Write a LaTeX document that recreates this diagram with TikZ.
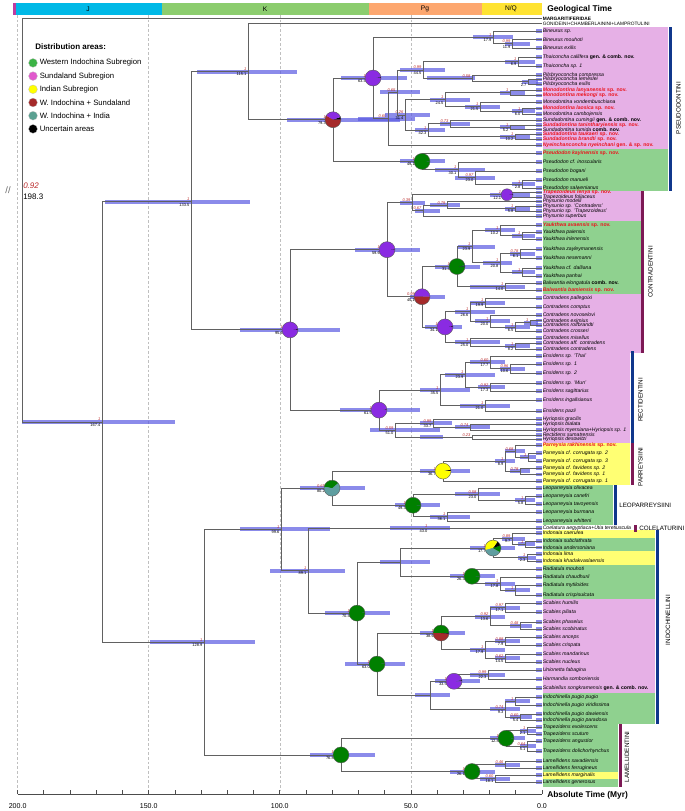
\documentclass[tikz,border=0pt]{standalone}
\usepackage{fontspec}
\setmainfont{Liberation Sans}
\usetikzlibrary{positioning}
\definecolor{hpdblue}{RGB}{90,90,225}
\definecolor{ppred}{RGB}{185,40,40}
\definecolor{newred}{RGB}{235,20,30}
\definecolor{boxpink}{RGB}{230,176,230}
\definecolor{boxgreen}{RGB}{143,209,143}
\definecolor{boxyellow}{RGB}{255,255,115}
\definecolor{tribeblue}{RGB}{16,55,140}
\definecolor{tribemaroon}{RGB}{125,25,85}
\definecolor{wind}{RGB}{0,128,0}
\definecolor{sunda}{RGB}{138,43,226}
\definecolor{india}{RGB}{255,255,0}
\definecolor{wisun}{RGB}{165,42,42}
\definecolor{wiind}{RGB}{95,158,160}
\definecolor{lgreen}{RGB}{60,180,70}
\definecolor{lpink}{RGB}{225,90,205}
\definecolor{lteal}{RGB}{90,160,145}
\definecolor{eraTr}{RGB}{190,60,160}
\definecolor{eraJ}{RGB}{0,185,231}
\definecolor{eraK}{RGB}{140,205,110}
\definecolor{eraPg}{RGB}{253,167,111}
\definecolor{eraNQ}{RGB}{255,227,50}
\tikzset{
  br/.style={draw=black!62, line width=0.55pt},
  hpd/.style={fill=hpdblue, fill opacity=0.7},
  grid/.style={draw=black!25, line width=0.4pt, dash pattern=on 2pt off 1.5pt},
  tip/.style={anchor=west, inner sep=0pt, font=\fontsize{3.85}{4.5}\selectfont\itshape},
  newsp/.style={text=newred, font=\fontsize{3.85}{4.5}\selectfont\bfseries\itshape},
  pp/.style={anchor=south east, inner sep=0.2pt, text=ppred, font=\fontsize{3}{3}\selectfont\itshape},
  age/.style={anchor=north east, inner sep=0.2pt, font=\fontsize{3}{3}\selectfont},
  tribe/.style={rotate=90, inner sep=0pt, font=\fontsize{4.7}{5}\selectfont},
  tribeh/.style={anchor=west, inner sep=0pt, font=\fontsize{4.7}{5}\selectfont},
  era/.style={inner sep=0pt, font=\fontsize{5}{5}\selectfont},
  bigl/.style={anchor=west, inner sep=0pt, font=\fontsize{6.3}{7}\selectfont\bfseries},
  axl/.style={inner sep=0pt, font=\fontsize{5.3}{6}\selectfont},
  legt/.style={anchor=west, inner sep=0pt, font=\fontsize{6}{7}\selectfont\bfseries},
  legi/.style={anchor=west, inner sep=0pt, font=\fontsize{5.8}{7}\selectfont},
  pieline/.style={draw=black!65, line width=0.3pt}
}
\newcommand\nov[1]{\textup{\bfseries #1}}
\newcommand\taxon[3]{\fill[hpd] (535.5,#2-1.8) rectangle (541.5,#2+1.8);
  \node[tip] (#1) at (542.5,#2) {#3};}
\newcommand\newtaxon[3]{\fill[hpd] (535.5,#2-1.8) rectangle (541.5,#2+1.8);
  \node[tip,newsp] (#1) at (542.5,#2) {#3};}
% name, x, y, bar from, bar to, posterior, age
\newcommand\inode[8][0.8pt]{\coordinate (#2) at (#3,#4);
  \fill[hpd] (#5,#4-2) rectangle (#6,#4+2);
  \node[pp] (#2p) at ([xshift=-#1,yshift=0.3pt]#2) {#7};
  \node[age] (#2a) at ([xshift=-#1,yshift=-0.8pt]#2) {#8};}
\newcommand\branch[2]{\draw[br] (#1) |- (#2);}
\newcommand\tipline[2]{\draw[br] (#1) |- ([xshift=-0.5pt]#2.west);}
\newcommand\piech[3][6pt]{\foreach \pc/\pa/\pb in {#3}{\fill[fill=\pc] (#2) -- ++(\pa:#1) arc[start angle=\pa,end angle=\pb,radius=#1] -- cycle;}
  \draw[pieline] (#2) circle[radius=#1];}

\begin{document}
\begin{tikzpicture}[x=0.75pt,y=-0.75pt]
\useasboundingbox (0,0) rectangle (685,811);
% geological time
\fill[eraTr] (13,3) rectangle (15.5,14.5);
\fill[eraJ] (15.5,3) rectangle (162,14.5);
\fill[eraK] (162,3) rectangle (369,14.5);
\fill[eraPg] (369,3) rectangle (482,14.5);
\fill[eraNQ] (482,3) rectangle (541.5,14.5);
\node[era] (eJ) at (88,9) {J};
\node[era] (eK) at (265,9) {K};
\node[era] (ePg) at (425,9) {Pg};
\node[era] (eNQ) at (511,9) {N/Q};
\node[bigl] (geo) at (547,9.5) {Geological Time};
\foreach \t in {50,100,150,200} \draw[grid] ({542-2.622*\t},15) -- ({542-2.622*\t},790);
% time axis
\draw[br,draw=black!70] (17.6,794) -- (542,794);
\foreach \t in {0,10,...,200} \draw[br,draw=black!70] ({542-2.622*\t},794) -- ({542-2.622*\t},789.5);
\foreach \t in {0,50,...,200} \node[axl] (ax\t) at ({542-2.622*\t},806) {\t.0};
\node[bigl] (abs) at (547,795) {Absolute Time (Myr)};
% legend
\node[legt] (legtitle) at (35,47) {Distribution areas:};
\foreach \lc/\lt [count=\i] in {lgreen/Western Indochina Subregion, lpink/Sundaland Subregion, india/Indian Subregion, wisun/W. Indochina + Sundaland, lteal/W. Indochina + India, black/Uncertain areas}{
  \fill[fill=\lc, draw=black!25, line width=0.2pt] (33,{49.7+13.2*\i}) circle[radius=3.3pt];
  \node[legi] (leg\i) at (39.5,{49.7+13.2*\i}) {\lt};}
% tip backgrounds
\fill[boxpink] (543,26.5) rectangle (668,149);
\fill[boxgreen] (543,149) rectangle (668,190.5);
\fill[boxpink] (543,190.5) rectangle (641,221);
\fill[boxgreen] (543,221) rectangle (641,294);
\fill[boxpink] (543,294) rectangle (641,353);
\fill[boxpink] (543,353) rectangle (630,443);
\fill[boxyellow] (543,443) rectangle (630,485);
\fill[boxgreen] (543,485) rectangle (613,525);
\fill[boxyellow] (543,529.5) rectangle (655,537.5);
\fill[boxgreen] (543,537.5) rectangle (655,551);
\fill[boxyellow] (543,551) rectangle (655,565);
\fill[boxgreen] (543,565) rectangle (655,599);
\fill[boxpink] (543,599) rectangle (655,692.5);
\fill[boxgreen] (543,692.5) rectangle (655,724);
\fill[boxgreen] (543,724) rectangle (618,786.5);
\fill[boxyellow] (543,771.5) rectangle (618,778.5);
% tribes
\fill[tribeblue] (668.5,26.5) rectangle (671.5,190.5);
\node[tribe] (pseu) at (678.5,108) {PSEUDODONTINI};
\fill[tribemaroon] (641,190.5) rectangle (644,353);
\node[tribe] (cont) at (650.5,272) {CONTRADENTINI};
\fill[tribeblue] (630.5,351) rectangle (633.5,443);
\node[tribe] (rect) at (640.5,400) {RECTIDENTINI};
\fill[tribemaroon] (630.5,443) rectangle (633.5,485);
\node[tribe] (parr) at (640.5,467) {PARREYSIINI};
\fill[tribeblue] (613.5,485) rectangle (616.5,525);
\node[tribeh] (leop) at (619,505) {LEOPARREYSIINI};
\fill[tribemaroon] (634,524.5) rectangle (637,531.5);
\node[tribeh] (coel) at (639,528) {COLELATURINI};
\fill[tribeblue] (655.5,529.5) rectangle (658.5,724);
\node[tribe] (indo) at (668,620) {INDOCHINELLINI};
\fill[tribemaroon] (618.5,724) rectangle (621.5,786.5);
\node[tribe] (lame) at (627,757) {LAMELLIDENTINI};
% tips
\node[tip,font=\fontsize{3.6}{4}\selectfont\bfseries] (tmar) at (542.5,18.5) {MARGARITIFERIDAE};
\node[tip,font=\fontsize{3.6}{4}\selectfont] (tgon) at (542.5,23.5) {GONIDEINI+CHAMBERLAININI+LAMPROTULINI};
\taxon{tB1}{31}{Bineurus sp.}
\taxon{tB2}{39.5}{Bineurus mouhoti}
\taxon{tB3}{48}{Bineurus exilis}
\taxon{tT1}{57}{Thaiconcha callifera \nov{gen. \& comb. nov.}}
\taxon{tT2}{66}{Thaiconcha sp. 1}
\taxon{tP1}{75}{Pilsbryoconcha compressa}
\taxon{tP2}{79.5}{Pilsbryoconcha lemeslei}
\taxon{tP3}{84}{Pilsbryoconcha exilis}
\newtaxon{tM1}{90}{Monodontina lanyanensis \nov{sp. nov.}}
\newtaxon{tM2}{95.5}{Monodontina mekongi \nov{sp. nov.}}
\taxon{tM3}{102}{Monodontina vondembuschiana}
\newtaxon{tM4}{108.5}{Monodontina laosica \nov{sp. nov.}}
\taxon{tM5}{114}{Monodontina cambojensis}
\taxon{tS1}{120}{Sundadontina cumingii \nov{gen. \& comb. nov.}}
\newtaxon{tS2}{125}{Sundadontina tanintharyiensis \nov{sp. nov.}}
\taxon{tS3}{129.5}{Sundadontina tumida \nov{comb. nov.}}
\newtaxon{tS4}{134}{Sundadontina taukaeri \nov{sp. nov.}}
\newtaxon{tS5}{139}{Sundadontina brandti \nov{sp. nov.}}
\newtaxon{tNy}{145}{Nyeinchanconcha nyeinchani \nov{gen. \& sp. nov.}}
\newtaxon{tPk}{153}{Pseudodon kayinensis \nov{sp. nov.}}
\taxon{tPi}{162}{Pseudodon cf. inoscularis}
\taxon{tPb}{171}{Pseudodon bogani}
\taxon{tPm}{180}{Pseudodon manueli}
\taxon{tPs}{188}{Pseudodon salwenianus}
\newtaxon{tTl}{192.5}{Trapezoideus lenya \nov{sp. nov.}}
\taxon{tTf}{197}{Trapezoideus foliaceus}
\taxon{tPh1}{201.5}{Physunio modelli}
\taxon{tPh2}{206}{Physunio sp. 'Contradens'}
\taxon{tPh3}{211}{Physunio sp. 'Trapezoideus'}
\taxon{tPh4}{216}{Physunio superbus}
\newtaxon{tY1}{225}{Yaukthwa avaensis \nov{sp. nov.}}
\taxon{tY2}{232}{Yaukthwa paiensis}
\taxon{tY3}{239}{Yaukthwa inlenensis}
\taxon{tY4}{249}{Yaukthwa zayleymanensis}
\taxon{tY5}{258}{Yaukthwa nesemanni}
\taxon{tY6}{268}{Yaukthwa cf. dalliana}
\taxon{tY7}{276}{Yaukthwa panhai}
\taxon{tBa1}{283}{Balwantia elongatula \nov{comb. nov.}}
\newtaxon{tBa2}{290}{Balwantia bamiensis \nov{sp. nov.}}
\taxon{tC1}{298}{Contradens pallegoixi}
\taxon{tC2}{307}{Contradens comptus}
\taxon{tC3}{315}{Contradens novoselovi}
\taxon{tC4}{320.5}{Contradens eximius}
\taxon{tC5}{325}{Contradens rolfbrandti}
\taxon{tC6}{331}{Contradens crosseri}
\taxon{tC7}{338}{Contradens misellus}
\taxon{tC8}{343}{Contradens aff. contradens}
\taxon{tC9}{349}{Contradens contradens}
\taxon{tE1}{356}{Ensidens sp. 'Thai'}
\taxon{tE2}{364}{Ensidens sp. 1}
\taxon{tE3}{373}{Ensidens sp. 2}
\taxon{tE4}{383}{Ensidens sp. 'Mun'}
\taxon{tE5}{391}{Ensidens sagittarius}
\taxon{tE6}{400}{Ensidens ingallsianus}
\taxon{tE7}{411}{Ensidens pazii}
\taxon{tH1}{419}{Hyriopsis gracilis}
\taxon{tH2}{424}{Hyriopsis bialata}
\taxon{tH3}{430}{Hyriopsis myersiana+Hyriopsis sp. 1}
\taxon{tH4}{435}{Rectidens sumatrensis}
\taxon{tH5}{439.5}{Hyriopsis desowitzi}
\newtaxon{tPa1}{445}{Parreysia rakhinensis \nov{sp. nov.}}
\taxon{tPa2}{453}{Parreysia cf. corrugata sp. 2}
\taxon{tPa3}{461}{Parreysia cf. corrugata sp. 3}
\taxon{tPa4}{468}{Parreysia cf. favidens sp. 2}
\taxon{tPa5}{474.5}{Parreysia cf. favidens sp. 1}
\taxon{tPa6}{481}{Parreysia cf. corrugata sp. 1}
\taxon{tL1}{488}{Leoparreysia olivacea}
\taxon{tL2}{496}{Leoparreysia canefri}
\taxon{tL3}{504}{Leoparreysia tavoyensis}
\taxon{tL4}{512}{Leoparreysia burmana}
\taxon{tL5}{521}{Leoparreysia whitteni}
\taxon{tCo}{528}{Coelatura aegyptiaca+Utia teretiuscula}
\taxon{tI1}{533}{Indonaia caerulea}
\taxon{tI2}{541}{Indonaia subclathrata}
\taxon{tI3}{547.5}{Indonaia andersoniana}
\taxon{tI4}{554}{Indonaia lima}
\taxon{tI5}{561}{Indonaia khadakvaslaensis}
\taxon{tR1}{569}{Radiatula mouhoti}
\taxon{tR2}{577}{Radiatula chaudhurii}
\taxon{tR3}{585}{Radiatula mytiloides}
\taxon{tR4}{595}{Radiatula crispisulcata}
\taxon{tSc1}{603}{Scabies humilis}
\taxon{tSc2}{612}{Scabies piliata}
\taxon{tSc3}{622}{Scabies phaselus}
\taxon{tSc4}{629}{Scabies scobinatus}
\taxon{tSc5}{637}{Scabies anceps}
\taxon{tSc6}{645}{Scabies crispata}
\taxon{tSc7}{654}{Scabies mandarinus}
\taxon{tSc8}{662}{Scabies nucleus}
\taxon{tU}{670}{Unionetta fabagina}
\taxon{tHa}{679}{Harmandia somboriensis}
\taxon{tSs}{688}{Scabiellus songkramensis \nov{gen. \& comb. nov.}}
\taxon{tIc1}{697}{Indochinella pugio pugio}
\taxon{tIc2}{705}{Indochinella pugio viridissima}
\taxon{tIc3}{714}{Indochinella pugio dawiensis}
\taxon{tIc4}{720}{Indochinella pugio paradoxa}
\taxon{tTz1}{727}{Trapezidens exolescens}
\taxon{tTz2}{734}{Trapezidens scutum}
\taxon{tTz3}{741}{Trapezidens angustior}
\taxon{tTz4}{751}{Trapezidens dolichorhynchus}
\taxon{tLa1}{761}{Lamellidens savadiensis}
\taxon{tLa2}{768}{Lamellidens ferrugineus}
\taxon{tLa3}{775}{Lamellidens marginalis}
\taxon{tLa4}{782}{Lamellidens generosus}
% internal nodes
\coordinate (rt) at (22,190);
\inode{A}{102}{421.9}{22}{175}{1}{167.4}
\inode{B}{191}{201.7}{105}{250}{1}{133.5}
\inode{D}{248}{71.6}{197}{297}{1}{115.1}
\inode[5pt]{F}{333}{119.7}{287}{400}{1}{79.3}
\inode[5pt]{G}{373}{78}{341}{407}{1}{63.4}
\inode{bin}{493}{37.4}{473}{513}{1}{17.9}
\inode{bin2}{512}{43.75}{505}{530}{0.99}{11.9}
\inode{ua}{388}{118.7}{358}{415}{0.60}{}
\inode{ub}{397}{92.4}{380}{420}{0.65}{}
\inode{tp}{423}{69.95}{400}{445}{0.99}{44.5}
\inode{tha}{518}{61.5}{505}{535}{1}{6.9}
\inode{pil}{472}{78.4}{427}{475}{0.58}{}
\inode{pil2}{528}{81.75}{522}{538}{}{2.7}
\inode{ms}{405}{114.9}{385}{430}{0.26}{31.4}
\inode{mon}{445}{99.7}{430}{470}{1}{24.5}
\inode{mon1}{510}{92.75}{500}{525}{1}{}
\inode{mon2}{480}{106.6}{465}{500}{1}{21.5}
\inode{mon3}{522}{111.25}{512}{535}{1}{6.0}
\inode{sun}{428}{130}{415}{445}{1}{42.3}
\inode{sun1}{450}{123.6}{440}{470}{0.73}{}
\inode{sun11}{510}{127.25}{500}{525}{1}{5.2}
\inode{sun2}{515}{136.5}{500}{530}{1}{10.2}
\inode[5pt]{H}{422}{161.4}{400}{445}{1}{49.1}
\inode{pse2}{458}{169.75}{435}{485}{1}{30.1}
\inode{pse3}{475}{177.5}{455}{495}{0.97}{23.0}
\inode{pse4}{522}{184}{512}{535}{1}{2.8}
\inode[5pt]{E}{290}{329.85}{240}{340}{1}{95.6}
\inode[5pt]{con}{387}{249.65}{355}{420}{1}{59.6}
\inode{trp}{412}{202.6}{400}{425}{0.39}{}
\inode[4pt]{trz}{507}{194.75}{490}{530}{1}{12.1}
\inode{phy}{423}{210.5}{415}{440}{0.67}{}
\inode{phy1}{447}{205}{430}{460}{0.79}{}
\inode{phy2}{515}{208.5}{505}{530}{1}{5.8}
\inode[5pt]{yb}{422}{296.7}{410}{445}{0.99}{45.1}
\inode[5pt]{yk}{457}{266.5}{435}{480}{1}{31.4}
\inode{yau}{472}{246.5}{458}{495}{1}{23.9}
\inode{yau1}{500}{230.25}{485}{515}{1}{10.2}
\inode{yau11}{522}{235.5}{512}{535}{1}{}
\inode{yau2}{500}{262.75}{483}{512}{1}{20.8}
\inode{yau21}{520}{253.5}{510}{535}{0.78}{6.1}
\inode{yau22}{522}{272}{512}{535}{1}{}
\inode{bal}{505}{286.5}{470}{525}{1}{14.0}
\inode[5pt]{cct}{445}{326.9}{425}{462}{1}{34.1}
\inode{cc1}{470}{311.75}{455}{495}{1}{26.6}
\inode{cc11}{485}{302.5}{470}{505}{1}{19.9}
\inode{cc12}{490}{321}{475}{510}{1}{20.0}
\inode{cc121}{515}{327}{505}{530}{1}{6.5}
\inode{cc122}{530}{322.75}{524}{538}{1}{}
\inode{cc2}{470}{342}{455}{500}{1}{25.0}
\inode{cc21}{515}{346}{505}{530}{1}{8.2}
\inode[5pt]{rec}{379}{410.1}{340}{420}{1}{61.5}
\inode{ens}{440}{390.05}{420}{470}{1}{35.5}
\inode{ens1}{465}{374.6}{445}{495}{1}{23.9}
\inode{ens11}{490}{362.25}{470}{505}{0.60}{17.7}
\inode{ens111}{510}{368.5}{500}{525}{0.96}{10.6}
\inode{ens12}{490}{387}{478}{505}{0.92}{17.3}
\inode{ens2}{485}{405.5}{460}{510}{1}{21.0}
\inode{hyr}{395}{430.1}{370}{440}{0.59}{51.0}
\inode{hyr1}{433}{423}{420}{452}{0.99}{33.7}
\inode{hyr11}{470}{427}{455}{490}{0.74}{}
\inode{hyr2}{472}{437.25}{420}{443}{0.23}{}
\inode{N1}{204}{642.1}{150}{255}{1}{128.9}
\inode{Q}{281}{529.35}{240}{330}{1}{99.6}
\inode[5pt]{PL}{332}{488.15}{300}{365}{0.65}{80.2}
\inode[5pt]{Pa}{443}{471.05}{420}{470}{1}{36.7}
\inode{Pa1}{505}{461.1}{495}{515}{1}{8.9}
\inode{Pa11}{515}{451}{505}{525}{0.68}{}
\inode{Pa111}{528}{457}{520}{536}{1}{}
\inode{Pa12}{520}{471.25}{510}{530}{0.78}{}
\inode[5pt]{Le}{413}{505.25}{395}{440}{1}{49.3}
\inode{Le1}{478}{494}{455}{500}{0.58}{23.0}
\inode{Le11}{525}{500}{515}{535}{1}{5.8}
\inode{Le2}{447}{516.5}{430}{470}{1}{36.1}
\inode{CI}{308}{570.55}{270}{345}{1}{89.1}
\inode{Co}{429}{528}{390}{450}{1}{43.0}
\inode[5pt]{Ind}{357}{613.1}{325}{390}{1}{70.4}
\inode{IR}{400}{562.15}{380}{430}{}{}
\inode[5pt]{Io}{493}{548.05}{470}{515}{1}{17.7}
\inode{Io1}{512}{538.6}{502}{525}{0.89}{9.7}
\inode{Io11}{525}{544.25}{518}{535}{1}{}
\inode{Io2}{527}{557.5}{518}{536}{1}{2.3}
\inode[5pt]{Ra}{472}{576.25}{450}{495}{1}{26.3}
\inode{Ra1}{500}{583.5}{485}{515}{1}{17.8}
\inode{Ra11}{515}{590}{505}{530}{1}{}
\inode[5pt]{Sc}{377}{664.05}{345}{405}{1}{63.0}
\inode[5pt]{Sm}{441}{633}{420}{465}{1}{38.6}
\inode{Sa}{490}{616.5}{475}{505}{0.92}{13.6}
\inode{Sa1}{505}{607.5}{490}{520}{0.97}{17.1}
\inode{Sa2}{520}{625.5}{510}{532}{0.48}{}
\inode{Sb}{485}{649.5}{470}{505}{1}{17.9}
\inode{Sb1}{505}{641}{495}{520}{0.88}{7.9}
\inode{Sb2}{505}{658}{495}{520}{0.62}{14.5}
\inode{X}{430}{695.1}{415}{450}{}{}
\inode[5pt]{Sp}{454}{681.25}{435}{480}{1}{33.5}
\inode{Sp1}{488}{674.5}{470}{505}{0.99}{22.3}
\inode{Ic}{505}{709}{490}{520}{0.74}{9.3}
\inode{Ic1}{515}{701}{505}{530}{1}{}
\inode{Ic2}{520}{717}{510}{532}{0.60}{5.4}
\inode[5pt]{Lm}{341}{754.9}{310}{375}{1}{76.8}
\inode[5pt]{Tz}{506}{738.25}{490}{525}{1}{12.8}
\inode{Tz1}{527}{730.5}{520}{536}{1}{2.1}
\inode{Tz2}{527}{746}{520}{536}{0.64}{5.1}
\inode[5pt]{La}{472}{771.5}{450}{495}{1}{26.1}
\inode{La1}{505}{764.5}{495}{520}{0.46}{}
\inode{La2}{495}{778.5}{480}{510}{0.60}{18.1}
% branches
\tipline{rt}{tmar} \branch{rt}{A}
\branch{A}{B} \branch{A}{N1}
\branch{B}{D} \branch{B}{E}
\tipline{D}{tgon} \branch{D}{F}
\branch{F}{G} \branch{F}{H}
\branch{G}{bin} \branch{G}{ua}
\tipline{bin}{tB1} \branch{bin}{bin2} \tipline{bin2}{tB2} \tipline{bin2}{tB3}
\branch{ua}{ub} \tipline{ua}{tNy}
\branch{ub}{tp} \branch{ub}{ms}
\branch{tp}{tha} \branch{tp}{pil}
\tipline{tha}{tT1} \tipline{tha}{tT2}
\tipline{pil}{tP1} \branch{pil}{pil2} \tipline{pil2}{tP2} \tipline{pil2}{tP3}
\branch{ms}{mon} \branch{ms}{sun}
\branch{mon}{mon1} \branch{mon}{mon2}
\tipline{mon1}{tM1} \tipline{mon1}{tM2}
\tipline{mon2}{tM3} \branch{mon2}{mon3}
\tipline{mon3}{tM4} \tipline{mon3}{tM5}
\branch{sun}{sun1} \branch{sun}{sun2}
\tipline{sun1}{tS1} \branch{sun1}{sun11}
\tipline{sun11}{tS2} \tipline{sun11}{tS3}
\tipline{sun2}{tS4} \tipline{sun2}{tS5}
\tipline{H}{tPk} \branch{H}{pse2}
\tipline{pse2}{tPi} \branch{pse2}{pse3}
\tipline{pse3}{tPb} \branch{pse3}{pse4}
\tipline{pse4}{tPm} \tipline{pse4}{tPs}
\branch{E}{con} \branch{E}{rec}
\branch{con}{trp} \branch{con}{yb}
\branch{trp}{trz} \branch{trp}{phy}
\tipline{trz}{tTl} \tipline{trz}{tTf}
\branch{phy}{phy1} \tipline{phy}{tPh4}
\tipline{phy1}{tPh1} \branch{phy1}{phy2}
\tipline{phy2}{tPh2} \tipline{phy2}{tPh3}
\branch{yb}{yk} \branch{yb}{cct}
\branch{yk}{yau} \branch{yk}{bal}
\branch{yau}{yau1} \branch{yau}{yau2}
\tipline{yau1}{tY1} \branch{yau1}{yau11}
\tipline{yau11}{tY2} \tipline{yau11}{tY3}
\branch{yau2}{yau21} \branch{yau2}{yau22}
\tipline{yau21}{tY4} \tipline{yau21}{tY5}
\tipline{yau22}{tY6} \tipline{yau22}{tY7}
\tipline{bal}{tBa1} \tipline{bal}{tBa2}
\branch{cct}{cc1} \branch{cct}{cc2}
\branch{cc1}{cc11} \branch{cc1}{cc12}
\tipline{cc11}{tC1} \tipline{cc11}{tC2}
\tipline{cc12}{tC3} \branch{cc12}{cc121}
\branch{cc121}{cc122} \tipline{cc121}{tC6}
\tipline{cc122}{tC4} \tipline{cc122}{tC5}
\tipline{cc2}{tC7} \branch{cc2}{cc21}
\tipline{cc21}{tC8} \tipline{cc21}{tC9}
\branch{rec}{ens} \branch{rec}{hyr}
\branch{ens}{ens1} \branch{ens}{ens2}
\branch{ens1}{ens11} \branch{ens1}{ens12}
\tipline{ens11}{tE1} \branch{ens11}{ens111}
\tipline{ens111}{tE2} \tipline{ens111}{tE3}
\tipline{ens12}{tE4} \tipline{ens12}{tE5}
\tipline{ens2}{tE6} \tipline{ens2}{tE7}
\branch{hyr}{hyr1} \branch{hyr}{hyr2}
\tipline{hyr1}{tH1} \branch{hyr1}{hyr11}
\tipline{hyr11}{tH2} \tipline{hyr11}{tH3}
\tipline{hyr2}{tH4} \tipline{hyr2}{tH5}
\branch{N1}{Q} \branch{N1}{Lm}
\branch{Q}{PL} \branch{Q}{CI}
\branch{PL}{Pa} \branch{PL}{Le}
\branch{Pa}{Pa1} \tipline{Pa}{tPa6}
\branch{Pa1}{Pa11} \branch{Pa1}{Pa12}
\tipline{Pa11}{tPa1} \branch{Pa11}{Pa111}
\tipline{Pa111}{tPa2} \tipline{Pa111}{tPa3}
\tipline{Pa12}{tPa4} \tipline{Pa12}{tPa5}
\branch{Le}{Le1} \branch{Le}{Le2}
\tipline{Le1}{tL1} \branch{Le1}{Le11}
\tipline{Le11}{tL2} \tipline{Le11}{tL3}
\tipline{Le2}{tL4} \tipline{Le2}{tL5}
\branch{CI}{Co} \branch{CI}{Ind}
\tipline{Co}{tCo}
\branch{Ind}{IR} \branch{Ind}{Sc}
\branch{IR}{Io} \branch{IR}{Ra}
\branch{Io}{Io1} \branch{Io}{Io2}
\tipline{Io1}{tI1} \branch{Io1}{Io11}
\tipline{Io11}{tI2} \tipline{Io11}{tI3}
\tipline{Io2}{tI4} \tipline{Io2}{tI5}
\tipline{Ra}{tR1} \branch{Ra}{Ra1}
\tipline{Ra1}{tR2} \branch{Ra1}{Ra11}
\tipline{Ra11}{tR3} \tipline{Ra11}{tR4}
\branch{Sc}{Sm} \branch{Sc}{X}
\branch{Sm}{Sa} \branch{Sm}{Sb}
\branch{Sa}{Sa1} \branch{Sa}{Sa2}
\tipline{Sa1}{tSc1} \tipline{Sa1}{tSc2}
\tipline{Sa2}{tSc3} \tipline{Sa2}{tSc4}
\branch{Sb}{Sb1} \branch{Sb}{Sb2}
\tipline{Sb1}{tSc5} \tipline{Sb1}{tSc6}
\tipline{Sb2}{tSc7} \tipline{Sb2}{tSc8}
\branch{X}{Sp} \branch{X}{Ic}
\branch{Sp}{Sp1} \tipline{Sp}{tSs}
\tipline{Sp1}{tU} \tipline{Sp1}{tHa}
\branch{Ic}{Ic1} \branch{Ic}{Ic2}
\tipline{Ic1}{tIc1} \tipline{Ic1}{tIc2}
\tipline{Ic2}{tIc3} \tipline{Ic2}{tIc4}
\branch{Lm}{Tz} \branch{Lm}{La}
\branch{Tz}{Tz1} \branch{Tz}{Tz2}
\tipline{Tz1}{tTz1} \tipline{Tz1}{tTz2}
\tipline{Tz2}{tTz3} \tipline{Tz2}{tTz4}
\branch{La}{La1} \branch{La}{La2}
\tipline{La1}{tLa1} \tipline{La1}{tLa2}
\tipline{La2}{tLa3} \tipline{La2}{tLa4}
% ancestral areas
\piech{F}{black/0/20, sunda/20/150, wisun/150/360}
\piech{G}{black/0/6, sunda/6/360}
\piech{H}{black/0/5, wind/5/360}
\piech[4.5pt]{trz}{black/0/6, sunda/6/360}
\piech{con}{black/0/6, sunda/6/360}
\piech{yb}{sunda/0/180, wisun/180/360}
\piech{yk}{black/0/8, wind/8/360}
\piech{cct}{black/0/6, sunda/6/360}
\piech{E}{black/0/6, sunda/6/360}
\piech{rec}{black/0/6, sunda/6/360}
\piech{PL}{wiind/0/40, wind/40/170, wiind/170/360}
\piech{Pa}{black/0/10, india/10/360}
\piech{Le}{black/0/4, wind/4/360}
\piech{Io}{wind/0/20, black/20/55, india/55/195, wiind/195/330, wind/330/360}
\piech{Ra}{black/0/4, wind/4/360}
\piech{Ind}{black/0/4, wind/4/360}
\piech{Sc}{black/0/4, wind/4/360}
\piech{Sm}{wind/0/180, wisun/180/355, black/355/360}
\piech{Sp}{black/0/8, sunda/8/360}
\piech{Tz}{black/0/3, wind/3/360}
\piech{La}{black/0/3, wind/3/360}
\piech{Lm}{black/0/3, wind/3/360}
% root
\node[inner sep=0pt, text=black!60, font=\fontsize{7}{7}\selectfont] (brk) at (8,190) {//};
\node[anchor=west, inner sep=0pt, text=ppred, font=\fontsize{6}{6}\selectfont\itshape] (rtp) at (23,186) {0.92};
\node[anchor=west, inner sep=0pt, font=\fontsize{6}{6}\selectfont] (rta) at (23,197) {198.3};
\end{tikzpicture}
\end{document}
